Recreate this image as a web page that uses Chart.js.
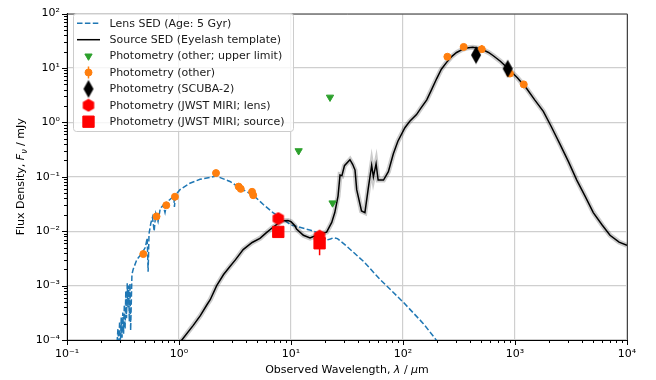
<!DOCTYPE html>
<html>
<head>
<meta charset="utf-8">
<script src="https://cdn.jsdelivr.net/npm/chart.js@4.4.1/dist/chart.umd.min.js"></script>
<style>
  html, body { margin: 0; padding: 0; background: #fff; }
</style>
</head>
<body>
<canvas id="sed" width="656" height="380"></canvas>
<script>
// lens SED (dashed)
const lensWave = [0.280, 0.285, 0.290, 0.295, 0.300, 0.305, 0.310, 0.315, 0.320, 0.325,
  0.330, 0.335, 0.340, 0.345, 0.350, 0.355, 0.360, 0.365, 0.370, 0.380,
  0.390, 0.42, 0.46, 0.50, 0.52, 0.53, 0.54, 0.56, 0.58, 0.60,
  0.62, 0.65, 0.68, 0.72, 0.75, 0.78, 0.85, 0.90, 0.91, 0.93,
  1.02, 1.25, 1.54, 2.0, 2.16, 2.85, 3.6, 4.6, 5.66, 6.9,
  8.5, 10, 12, 15, 17, 19, 21, 22.5, 24, 26,
  31.4, 44.3, 62.4, 101, 152, 193, 205];
const lensFlux = [9e-5, 1.6e-4, 8e-5, 2.2e-4, 9e-5, 2.6e-4, 1.1e-4, 3.2e-4, 1.3e-4, 4.5e-4,
  1.6e-4, 8e-4, 2.5e-4, 1.1e-3, 4e-4, 1.0e-3, 2.2e-4, 1.1e-3, 1.5e-4, 1.6e-3,
  2.0e-3, 3.0e-3, 3.8e-3, 5.0e-3, 7.5e-3, 1.8e-3, 9e-3, 1.4e-2, 1.8e-2, 1.0e-2,
  2.1e-2, 1.5e-2, 2.6e-2, 3.0e-2, 2.2e-2, 3.4e-2, 4.0e-2, 4.4e-2, 2.8e-2, 4.6e-2,
  0.058, 0.076, 0.090, 0.100, 0.103, 0.082, 0.060, 0.046, 0.031, 0.022,
  0.0165, 0.0130, 0.0118, 0.0104, 0.0095, 0.0080, 0.0069, 0.0072, 0.0076, 0.0073,
  0.0053, 0.0028, 0.0013, 0.00049, 0.0002, 0.000107, 0.00009];

// source SED (Eyelash template)
const srcWave = [1.0, 1.06, 1.34, 1.55, 1.77, 1.9, 2.17, 2.5,
  2.85, 3.2, 3.74, 4.5, 5.28, 6.0, 6.9, 8.0, 8.5,
  9.4, 10.0, 10.5, 10.8, 11.2, 12.9, 14.8, 16.9, 18.5, 20.8,
  23.1, 24.6, 26.3, 27.4, 28.5, 30, 33.6, 35.5, 37.3, 38.6,
  42.6, 45.7, 49, 52.5, 54.4, 57.5, 60, 67, 74, 82,
  90, 104, 115, 132, 145, 163, 180, 200, 220, 245,
  270, 301, 340, 370, 420, 470, 520, 580, 640, 740,
  843, 1050, 1270, 1500, 1790, 2100, 2520, 3000, 3560, 4200,
  5000, 6000, 7050, 8500, 10000];
const srcFlux = [8e-5, 1.0e-4, 1.86e-4, 2.8e-4, 4.4e-4, 5.5e-4, 1.0e-3, 1.6e-3,
  2.24e-3, 3.0e-3, 4.6e-3, 6.2e-3, 7.4e-3, 9.3e-3, 0.0118, 0.0148, 0.0156,
  0.0157, 0.0150, 0.0135, 0.0127, 0.0110, 0.0084, 0.0075, 0.0084, 0.0090, 0.0096,
  0.0145, 0.022, 0.044, 0.108, 0.105, 0.16, 0.206, 0.17, 0.133, 0.058,
  0.0236, 0.022, 0.062, 0.163, 0.10, 0.174, 0.087, 0.087, 0.124, 0.265,
  0.45, 0.80, 1.05, 1.39, 1.85, 2.6, 4.0, 6.4, 9.5, 12.7,
  16.0, 19.3, 22.0, 23.3, 24.0, 23.2, 21.5, 19.3, 16.8, 13.3,
  10.3, 6.6, 4.2, 2.6, 1.6, 0.85, 0.40, 0.19, 0.087, 0.045,
  0.022, 0.013, 0.0084, 0.0063, 0.0055];

// photometry
const ulimWave = [11.7, 22.3, 23.5];
const ulimFlux = [0.30, 2.9, 0.033];
const otherWave = [0.48, 0.63, 0.77, 0.92, 2.14, 3.41, 3.56, 4.49, 4.6, 249, 348, 505, 901, 1197];
const otherFlux = [0.0038, 0.0187, 0.030, 0.043, 0.117, 0.066, 0.060, 0.053, 0.046, 16.1, 24.4, 22.2, 7.9, 5.0];
const otherErrLo = [0.0036, 0.0178, 0.0285, 0.041, 0.111, 0.063, 0.057, 0.047, 0.040, 15.3, 23.2, 20.5, 7.3, 4.7];
const otherErrHi = [0.0040, 0.0196, 0.0315, 0.045, 0.123, 0.069, 0.063, 0.059, 0.052, 16.9, 25.6, 26.5, 8.5, 5.3];
const scubaWave = [449, 861];
const scubaFlux = [17.3, 9.7];
const miriLensWave = [7.7, 18];
const miriLensFlux = [0.0171, 0.0081];
const miriSrcWave = [7.7, 18];
const miriSrcFlux = [0.0097, 0.0060];
const miriSrcErrLo = [0.0090, 0.0036];
const miriSrcErrHi = [0.0105, 0.0075];

// axes
const xTickExp = [-1, 0, 1, 2, 3, 4];
const xTickLabels = ['10⁻¹', '10⁰', '10¹', '10²', '10³', '10⁴'];
const yTickExp = [-4, -3, -2, -1, 0, 1, 2];
const yTickLabels = ['10⁻⁴', '10⁻³', '10⁻²', '10⁻¹', '10⁰', '10¹', '10²'];

const FONT = '"DejaVu Sans"';
Chart.defaults.font.family = FONT;

const pts = (xs, ys) => xs.map((x, i) => ({ x: x, y: ys[i] }));
// error bars as broken line segments
const errSegs = (xs, lo, hi) => {
  const out = [];
  xs.forEach((x, i) => { out.push({ x: x, y: lo[i] }, { x: x, y: hi[i] }, { x: x, y: null }); });
  return out;
};

function markerCanvas(w, h, draw) {
  const c = document.createElement('canvas');
  c.width = w; c.height = h;
  draw(c.getContext('2d'), w, h);
  return c;
}
const hexMarker = markerCanvas(14, 14, (g) => {
  g.fillStyle = '#ff0000';
  g.beginPath();
  for (let k = 0; k < 6; k++) {
    const a = -Math.PI / 2 + k * Math.PI / 3;
    const px = 7 + 6.6 * Math.cos(a), py = 7 + 6.6 * Math.sin(a);
    if (k) g.lineTo(px, py); else g.moveTo(px, py);
  }
  g.closePath();
  g.fill();
});
const diamondMarker = markerCanvas(12, 19, (g) => {
  g.fillStyle = '#000';
  g.beginPath();
  g.moveTo(6, 0.5); g.lineTo(11, 9.5); g.lineTo(6, 18.5); g.lineTo(1, 9.5);
  g.closePath();
  g.fill();
});

function logTicks(lo, hi) {
  const t = [];
  for (let e = lo; e <= hi; e++) {
    t.push({ value: Math.pow(10, e), major: true });
    if (e < hi) for (let m = 2; m <= 9; m++) t.push({ value: m * Math.pow(10, e), major: false });
  }
  return t;
}

const datasets = [
  { label: 'Lens SED (Age: 5 Gyr)', data: pts(lensWave, lensFlux), showLine: true, pointRadius: 0,
    borderColor: '#1f77b4', borderWidth: 1.5, borderDash: [5.5, 2.4], order: 10, clip: 0 },
  { label: 'halo', data: pts(srcWave, srcFlux), showLine: true, pointRadius: 0,
    borderColor: 'rgba(0,0,0,0.2)', borderWidth: 5, order: 9, clip: 0 },
  { label: 'Source SED (Eyelash template)', data: pts(srcWave, srcFlux), showLine: true, pointRadius: 0,
    borderColor: '#000', borderWidth: 1.5, order: 8, clip: 0 },
  { label: 'Photometry (other; upper limit)', data: pts(ulimWave, ulimFlux), pointStyle: 'triangle', pointRotation: 180,
    pointRadius: 4.2, pointBackgroundColor: '#2ca02c', pointBorderColor: '#2ca02c', pointBorderWidth: 1, order: 4 },
  { label: 'other err', data: errSegs(otherWave, otherErrLo, otherErrHi), showLine: true, pointRadius: 0,
    borderColor: '#ff7f0e', borderWidth: 1.5, order: 5 },
  { label: 'Photometry (other)', data: pts(otherWave, otherFlux), pointStyle: 'circle',
    pointRadius: 3.5, pointBackgroundColor: '#ff7f0e', pointBorderColor: '#ff7f0e', pointBorderWidth: 1, order: 3 },
  { label: 'Photometry (SCUBA-2)', data: pts(scubaWave, scubaFlux), pointStyle: diamondMarker,
    pointRadius: 6, order: 2 },
  { label: 'Photometry (JWST MIRI; lens)', data: pts(miriLensWave, miriLensFlux), pointStyle: hexMarker,
    pointRadius: 6.5, order: 1 },
  { label: 'miri err', data: errSegs(miriSrcWave, miriSrcErrLo, miriSrcErrHi), showLine: true, pointRadius: 0,
    borderColor: '#ff0000', borderWidth: 1.5, order: 1 },
  { label: 'Photometry (JWST MIRI; source)', data: pts(miriSrcWave, miriSrcFlux), pointStyle: 'rect',
    pointRadius: 8, pointBackgroundColor: '#ff0000', pointBorderColor: '#ff0000', pointBorderWidth: 1, order: 0 },
];

// legend rows: dataset index + handle kind
const legendRows = [
  { ds: 0, kind: 'dash' },
  { ds: 2, kind: 'line' },
  { ds: 3, kind: 'point' },
  { ds: 5, kind: 'point', err: true },
  { ds: 6, kind: 'point' },
  { ds: 7, kind: 'point' },
  { ds: 9, kind: 'point' },
];

function drawPt(ctx, ds, x, y) {
  ctx.save();
  ctx.fillStyle = ds.pointBackgroundColor || '#000';
  ctx.strokeStyle = ds.pointBorderColor || '#000';
  ctx.lineWidth = ds.pointBorderWidth || 0;
  Chart.helpers.drawPoint(ctx, { pointStyle: ds.pointStyle, radius: ds.pointRadius,
    rotation: ds.pointRotation || 0, borderWidth: ds.pointBorderWidth || 0 }, x, y);
  ctx.restore();
}

function drawRich(ctx, parts, cx, y) {
  const fontOf = p => (p.it ? 'italic ' : '') + (p.size || 11) + 'px ' + FONT;
  let total = 0;
  parts.forEach(p => { ctx.font = fontOf(p); total += ctx.measureText(p.t).width; });
  let x = cx - total / 2;
  ctx.textAlign = 'left';
  ctx.textBaseline = 'alphabetic';
  parts.forEach(p => {
    ctx.font = fontOf(p);
    ctx.fillText(p.t, x, y + (p.dy || 0));
    x += ctx.measureText(p.t).width;
  });
}

const decor = {
  id: 'decor',
  afterDraw(chart) {
    const ctx = chart.ctx, a = chart.chartArea;
    const xs = chart.scales.x, ys = chart.scales.y;
    ctx.save();
    // tick marks (major / minor)
    ctx.strokeStyle = '#000';
    ctx.lineWidth = 1;
    ctx.beginPath();
    xs.ticks.forEach(t => {
      const p = Math.round(xs.getPixelForValue(t.value)) + 0.5;
      ctx.moveTo(p, a.bottom); ctx.lineTo(p, a.bottom + (t.major ? 5 : 3));
    });
    ys.ticks.forEach(t => {
      const p = Math.round(ys.getPixelForValue(t.value)) + 0.5;
      ctx.moveTo(a.left - (t.major ? 5 : 3), p); ctx.lineTo(a.left, p);
    });
    ctx.stroke();
    // top and right spines
    ctx.strokeStyle = '#444';
    ctx.beginPath();
    ctx.moveTo(a.left, a.top + 0.5); ctx.lineTo(a.right + 0.5, a.top + 0.5); ctx.lineTo(a.right + 0.5, a.bottom);
    ctx.stroke();

    // legend
    const bx = 73.5, by = 13.5, bw = 220, bh = 118;
    ctx.beginPath();
    ctx.roundRect(bx, by, bw, bh, 3);
    ctx.fillStyle = 'rgba(255,255,255,0.8)';
    ctx.fill();
    ctx.strokeStyle = '#cccccc';
    ctx.lineWidth = 1;
    ctx.stroke();
    legendRows.forEach((r, i) => {
      const ds = datasets[r.ds];
      const y = 23.3 + 16.4 * i;
      if (r.kind === 'dash' || r.kind === 'line') {
        ctx.save();
        ctx.strokeStyle = ds.borderColor;
        ctx.lineWidth = ds.borderWidth;
        ctx.setLineDash(r.kind === 'dash' ? ds.borderDash : []);
        ctx.beginPath(); ctx.moveTo(77, y); ctx.lineTo(100, y); ctx.stroke();
        ctx.restore();
      } else {
        if (r.err) {
          ctx.save();
          ctx.strokeStyle = ds.pointBackgroundColor; ctx.lineWidth = 1.5;
          ctx.beginPath(); ctx.moveTo(88.5, y - 6); ctx.lineTo(88.5, y + 6); ctx.stroke();
          ctx.restore();
        }
        drawPt(ctx, ds, 88.5, y);
      }
      ctx.fillStyle = '#1a1a1a';
      ctx.font = '11px ' + FONT;
      ctx.textAlign = 'left';
      ctx.textBaseline = 'middle';
      ctx.fillText(ds.label, 109.5, y + 0.5);
    });

    // axis titles
    ctx.fillStyle = '#000';
    drawRich(ctx, [
      { t: 'Observed Wavelength, ' }, { t: 'λ', it: true }, { t: ' / ' }, { t: 'μ', it: true }, { t: 'm' }
    ], (a.left + a.right) / 2, 373);
    ctx.save();
    ctx.translate(24, (a.top + a.bottom) / 2);
    ctx.rotate(-Math.PI / 2);
    drawRich(ctx, [
      { t: 'Flux Density, ' }, { t: 'F', it: true }, { t: 'ν', it: true, size: 8, dy: 2.5 }, { t: ' / mJy' }
    ], 0, 0);
    ctx.restore();
    ctx.restore();
  }
};

const tickLabel = (exps, labels) => function (value, index, ticks) {
  if (!ticks[index].major) return '';
  return labels[exps.indexOf(Math.round(Math.log10(value)))];
};

new Chart(document.getElementById('sed'), {
  type: 'scatter',
  data: { datasets: datasets },
  options: {
    responsive: false,
    animation: false,
    events: [],
    layout: { padding: { left: 7, right: 29, top: 7, bottom: 0 } },
    plugins: { legend: { display: false }, tooltip: { enabled: false } },
    scales: {
      x: {
        type: 'logarithmic', min: 0.1, max: 10000,
        afterBuildTicks: s => { s.ticks = logTicks(-1, 4); },
        afterFit: s => { s.height = 40; },
        ticks: { autoSkip: false, maxRotation: 0, padding: 8, color: '#000',
          font: { size: 11 }, callback: tickLabel(xTickExp, xTickLabels) },
        grid: { color: c => (c.tick && c.tick.major ? '#cfcfcf' : 'rgba(0,0,0,0)'), lineWidth: 1.2, drawTicks: false },
        border: { display: true, color: '#000', width: 1 },
      },
      y: {
        type: 'logarithmic', min: 1e-4, max: 100,
        afterBuildTicks: s => { s.ticks = logTicks(-4, 2); },
        afterFit: s => { s.width = 60; },
        ticks: { autoSkip: false, padding: 7, color: '#000',
          font: { size: 11 }, callback: tickLabel(yTickExp, yTickLabels) },
        grid: { color: c => (c.tick && c.tick.major ? '#cfcfcf' : 'rgba(0,0,0,0)'), lineWidth: 1.2, drawTicks: false },
        border: { display: true, color: '#000', width: 1 },
      },
    },
  },
  plugins: [decor],
});
</script>
</body>
</html>
